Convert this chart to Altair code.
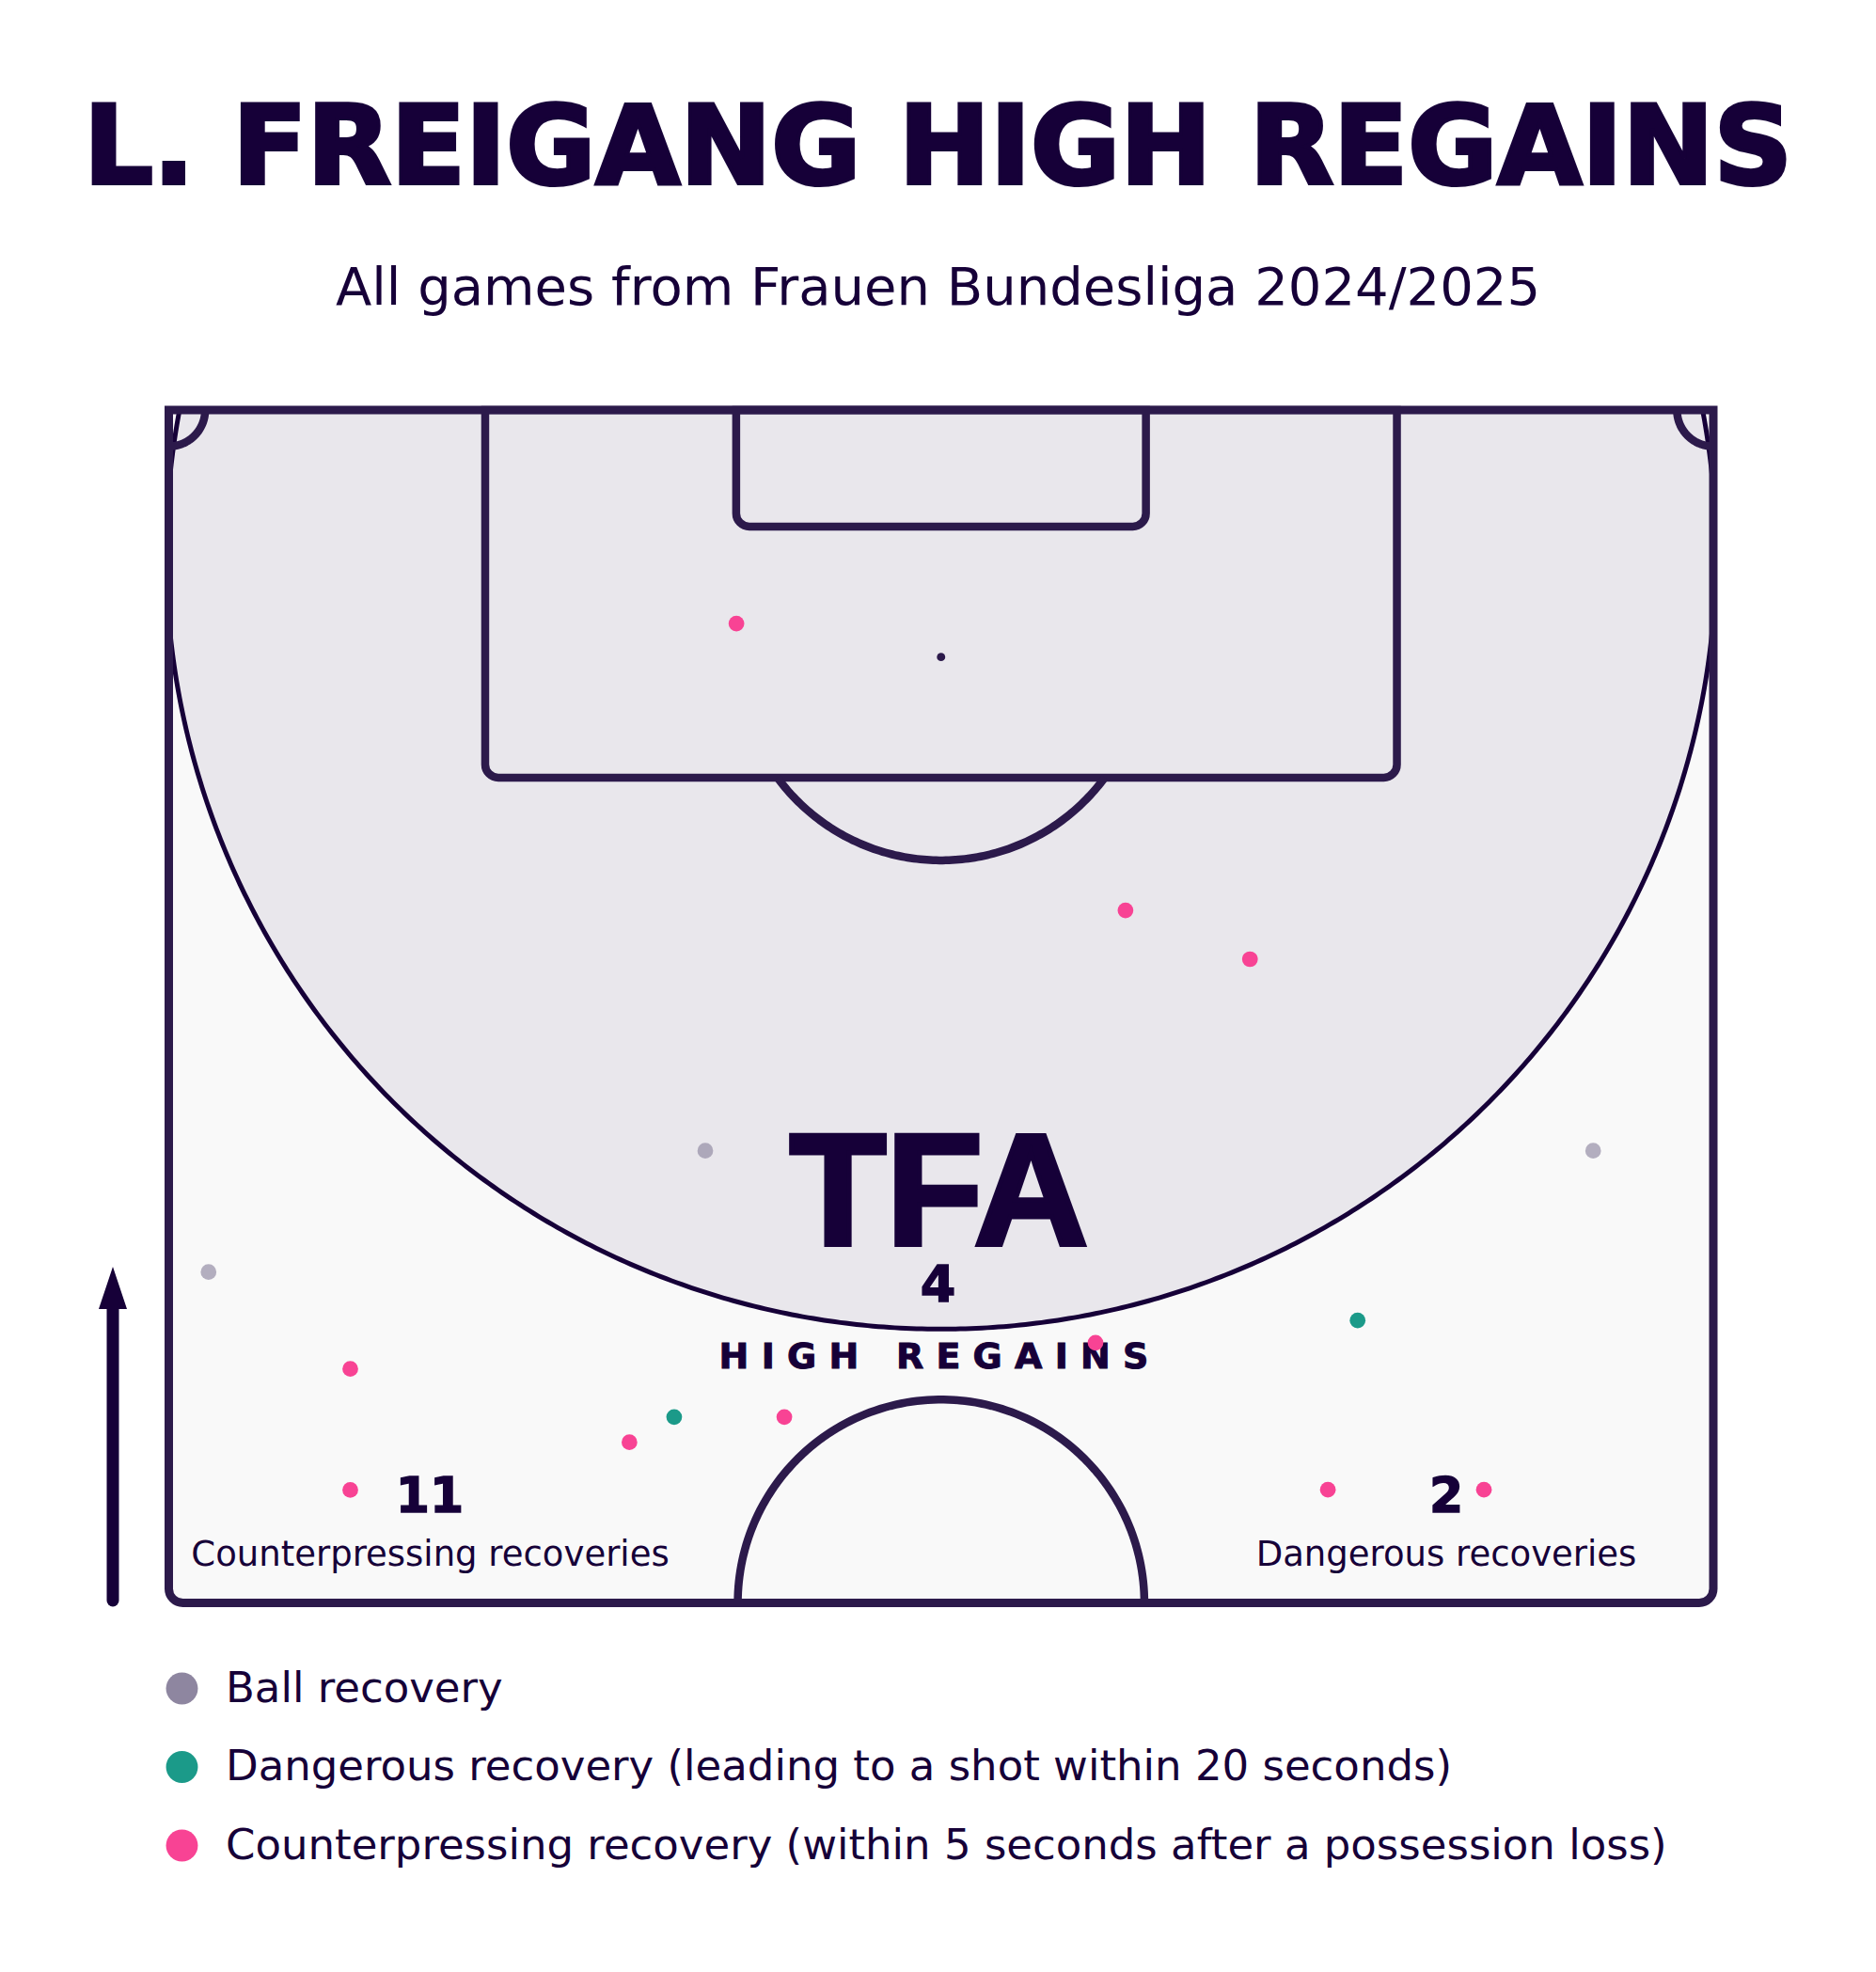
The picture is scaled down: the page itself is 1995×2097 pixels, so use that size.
import altair as alt
import pandas as pd
import numpy as np

# ---------------- data ----------------
categories = [
    "Ball recovery",
    "Dangerous recovery (leading to a shot within 20 seconds)",
    "Counterpressing recovery (within 5 seconds after a possession loss)",
]
cat_colors = ["#8E86A0", "#1B9A89", "#F84394"]

# positions in metres: x across the pitch (0-68), y = distance from the goal line (0-52.5)
ball_x = [23.62, 62.71, 1.75]
ball_y = [32.60, 32.60, 37.94]
danger_x = [22.25, 52.34]
danger_y = [44.32, 40.07]
counter_x = [24.99, 42.12, 47.60, 40.80, 7.99, 27.10, 20.28, 7.99, 51.03, 57.90]
counter_y = [9.40, 22.02, 24.17, 41.05, 42.20, 44.32, 45.43, 47.53, 47.52, 47.52]

title_text = "L. FREIGANG HIGH REGAINS"
subtitle_text = "All games from Frauen Bundesliga 2024/2025"
total_regains = "4"
total_label = "HIGH REGAINS"
counter_total = "11"
counter_label = "Counterpressing recoveries"
danger_total = "2"
danger_label = "Dangerous recoveries"

# ---------------- pitch geometry (metres) ----------------
PW, PL = 68.0, 52.5
BOX_X0, BOX_X1, BOX_D = 13.93, 54.07, 16.18
SIX_X0, SIX_X1, SIX_D = 24.98, 43.02, 5.13
SPOT_Y = 10.87
ARC_R = 8.95
CC_R = 8.95
CORNER_R = 1.6
ZONE_CY, ZONE_R = 6.33, 34.12

INK = "#160038"
LINE = "#2C1A4B"

xs = alt.Scale(domain=[0, PW], range=[179.5, 1822], nice=False, zero=False)
ys = alt.Scale(domain=[0, PL], range=[436, 1704.5], nice=False, zero=False)

one = pd.DataFrame({"x": [0.0], "x2": [PW], "y": [0.0], "y2": [PL]})

pitch_fill = alt.Chart(one).mark_rect(
    fill="#F9F9F9", cornerRadiusBottomLeft=15, cornerRadiusBottomRight=15
).encode(
    x=alt.X("x:Q", scale=xs, axis=None), x2="x2:Q",
    y=alt.Y("y:Q", scale=ys, axis=None), y2="y2:Q",
)

# high-regain zone (filled)
yy = np.linspace(0, ZONE_CY + ZONE_R, 400)
hw = np.sqrt(np.clip(ZONE_R ** 2 - (yy - ZONE_CY) ** 2, 0, None))
zone_df = pd.DataFrame({
    "yy": yy,
    "xl": np.clip(PW / 2 - hw, 0, PW),
    "xr": np.clip(PW / 2 + hw, 0, PW),
})
zone_fill = alt.Chart(zone_df).mark_area(orient="horizontal", color="#E9E7EC").encode(
    y=alt.Y("yy:Q", scale=ys, axis=None),
    x=alt.X("xl:Q", scale=xs, axis=None),
    x2="xr:Q",
)

th0 = -np.arcsin(ZONE_CY / ZONE_R)
th = np.linspace(th0, np.pi - th0, 500)
zone_line_df = pd.DataFrame({
    "i": np.arange(len(th)),
    "x": np.clip(PW / 2 + ZONE_R * np.cos(th), 0, PW),
    "y": np.clip(ZONE_CY + ZONE_R * np.sin(th), 0, PL),
})
zone_line = alt.Chart(zone_line_df).mark_line(color=INK, strokeWidth=5).encode(
    x=alt.X("x:Q", scale=xs, axis=None),
    y=alt.Y("y:Q", scale=ys, axis=None),
    order="i:Q",
)

# arcs
segs = []
def arc(name, cx, cy, r, a0, a1, n=120):
    t = np.linspace(a0, a1, n)
    segs.append(pd.DataFrame({"seg": name, "i": np.arange(n),
                              "x": cx + r * np.cos(t), "y": cy + r * np.sin(t)}))

a = np.arcsin((BOX_D - SPOT_Y) / ARC_R)
arc("pen", PW / 2, SPOT_Y, ARC_R, a, np.pi - a)
arc("centre", PW / 2, PL, CC_R, np.pi, 2 * np.pi)
arc("cornerL", 0, 0, CORNER_R, 0, np.pi / 2)
arc("cornerR", PW, 0, CORNER_R, np.pi / 2, np.pi)
arcs_df = pd.concat(segs, ignore_index=True)
arcs = alt.Chart(arcs_df).mark_line(color=LINE, strokeWidth=8.5).encode(
    x=alt.X("x:Q", scale=xs, axis=None),
    y=alt.Y("y:Q", scale=ys, axis=None),
    detail="seg:N",
    order="i:Q",
)

boxes_df = pd.DataFrame({"x": [BOX_X0, SIX_X0], "x2": [BOX_X1, SIX_X1],
                         "y": [0.0, 0.0], "y2": [BOX_D, SIX_D]})
boxes = alt.Chart(boxes_df).mark_rect(
    fill="#FFFFFF", fillOpacity=0, stroke=LINE, strokeWidth=8.5,
    cornerRadiusBottomLeft=14, cornerRadiusBottomRight=14,
).encode(
    x=alt.X("x:Q", scale=xs, axis=None), x2="x2:Q",
    y=alt.Y("y:Q", scale=ys, axis=None), y2="y2:Q",
)

pitch_outline = alt.Chart(one).mark_rect(
    fill="#FFFFFF", fillOpacity=0, stroke=LINE, strokeWidth=9,
    cornerRadiusBottomLeft=15, cornerRadiusBottomRight=15,
).encode(
    x=alt.X("x:Q", scale=xs, axis=None), x2="x2:Q",
    y=alt.Y("y:Q", scale=ys, axis=None), y2="y2:Q",
)

spot_df = pd.DataFrame({"x": [PW / 2], "y": [SPOT_Y]})
spot = alt.Chart(spot_df).mark_circle(color=LINE, size=80, opacity=1).encode(
    x=alt.X("x:Q", scale=xs, axis=None), y=alt.Y("y:Q", scale=ys, axis=None)
)

# ---------------- texts ----------------
def txt(text, x, y, size, weight="normal", font="DejaVu Sans", stroke_w=0, align="center"):
    kw = dict(text=text, font=font, fontSize=size, fontWeight=weight, color=INK,
              align=align, baseline="alphabetic")
    if stroke_w:
        kw.update(stroke=INK, strokeWidth=stroke_w)
    return alt.Chart(one).mark_text(**kw).encode(x=alt.value(x), y=alt.value(y))

NB = "\u00a0"
spaced = (NB.join(list("HIGH")) + NB * 3 + NB.join(list("REGAINS")))

texts = [
    txt(title_text, 997.5, 195, 116, "bold", stroke_w=4),
    txt(subtitle_text, 997.5, 324, 56),
    txt("TFA", 998.5, 1324, 168, "bold", font="Liberation Sans", stroke_w=5),
    txt(total_regains, 997.5, 1384, 54, "bold", stroke_w=1.5),
    txt(spaced, 993, 1455, 38, "bold", stroke_w=1),
    txt(counter_total, 457, 1608, 52, "bold", stroke_w=1.5),
    txt(counter_label, 457.5, 1665, 37),
    txt(danger_total, 1538, 1608, 52, "bold", stroke_w=1.5),
    txt(danger_label, 1538, 1665, 37),
]

# arrow (direction of attack)
arrow_shaft = alt.Chart(one).mark_rule(color=INK, strokeWidth=13, strokeCap="round").encode(
    x=alt.value(120), y=alt.value(1390), y2=alt.value(1702)
)
arrow_head = alt.Chart(one).mark_point(
    shape="M0,-1L0.667,1L-0.667,1Z", filled=True, size=2025, color=INK, opacity=1, strokeWidth=0
).encode(x=alt.value(120), y=alt.value(1369.5))

# ---------------- events ----------------
events = pd.DataFrame({
    "x": ball_x + danger_x + counter_x,
    "y": ball_y + danger_y + counter_y,
    "category": [categories[0]] * len(ball_x) + [categories[1]] * len(danger_x)
                + [categories[2]] * len(counter_x),
})

# ball recoveries are drawn semi-transparent on the pitch
ball_points = alt.Chart(events).transform_filter(
    alt.datum.category == categories[0]
).mark_circle(size=280, opacity=0.65, color=cat_colors[0]).encode(
    x=alt.X("x:Q", scale=xs, axis=None),
    y=alt.Y("y:Q", scale=ys, axis=None),
)

points = alt.Chart(events).transform_filter(
    alt.datum.category != categories[0]
).mark_circle(size=280, opacity=1).encode(
    x=alt.X("x:Q", scale=xs, axis=None),
    y=alt.Y("y:Q", scale=ys, axis=None),
    color=alt.Color(
        "category:N",
        scale=alt.Scale(domain=categories, range=cat_colors),
        legend=alt.Legend(
            orient="none", legendX=171, legendY=1773, title=None,
            symbolType="circle", symbolSize=1150, symbolStrokeWidth=0, symbolOpacity=1,
            labelFont="DejaVu Sans", labelFontSize=45, labelColor=INK, labelLimit=0,
            labelOffset=24, rowPadding=37.5, padding=0, direction="vertical",
        ),
    ),
)

chart = alt.layer(
    pitch_fill, zone_fill, zone_line, boxes, arcs, pitch_outline, spot,
    *texts, arrow_shaft, arrow_head, ball_points, points,
).properties(
    width=1995, height=2097,
    autosize=alt.AutoSizeParams(type="none"),
    padding=0, background="#FFFFFF",
).configure_view(strokeWidth=0)

chart.save("out.html", embed_options={"renderer": "svg", "actions": False})
